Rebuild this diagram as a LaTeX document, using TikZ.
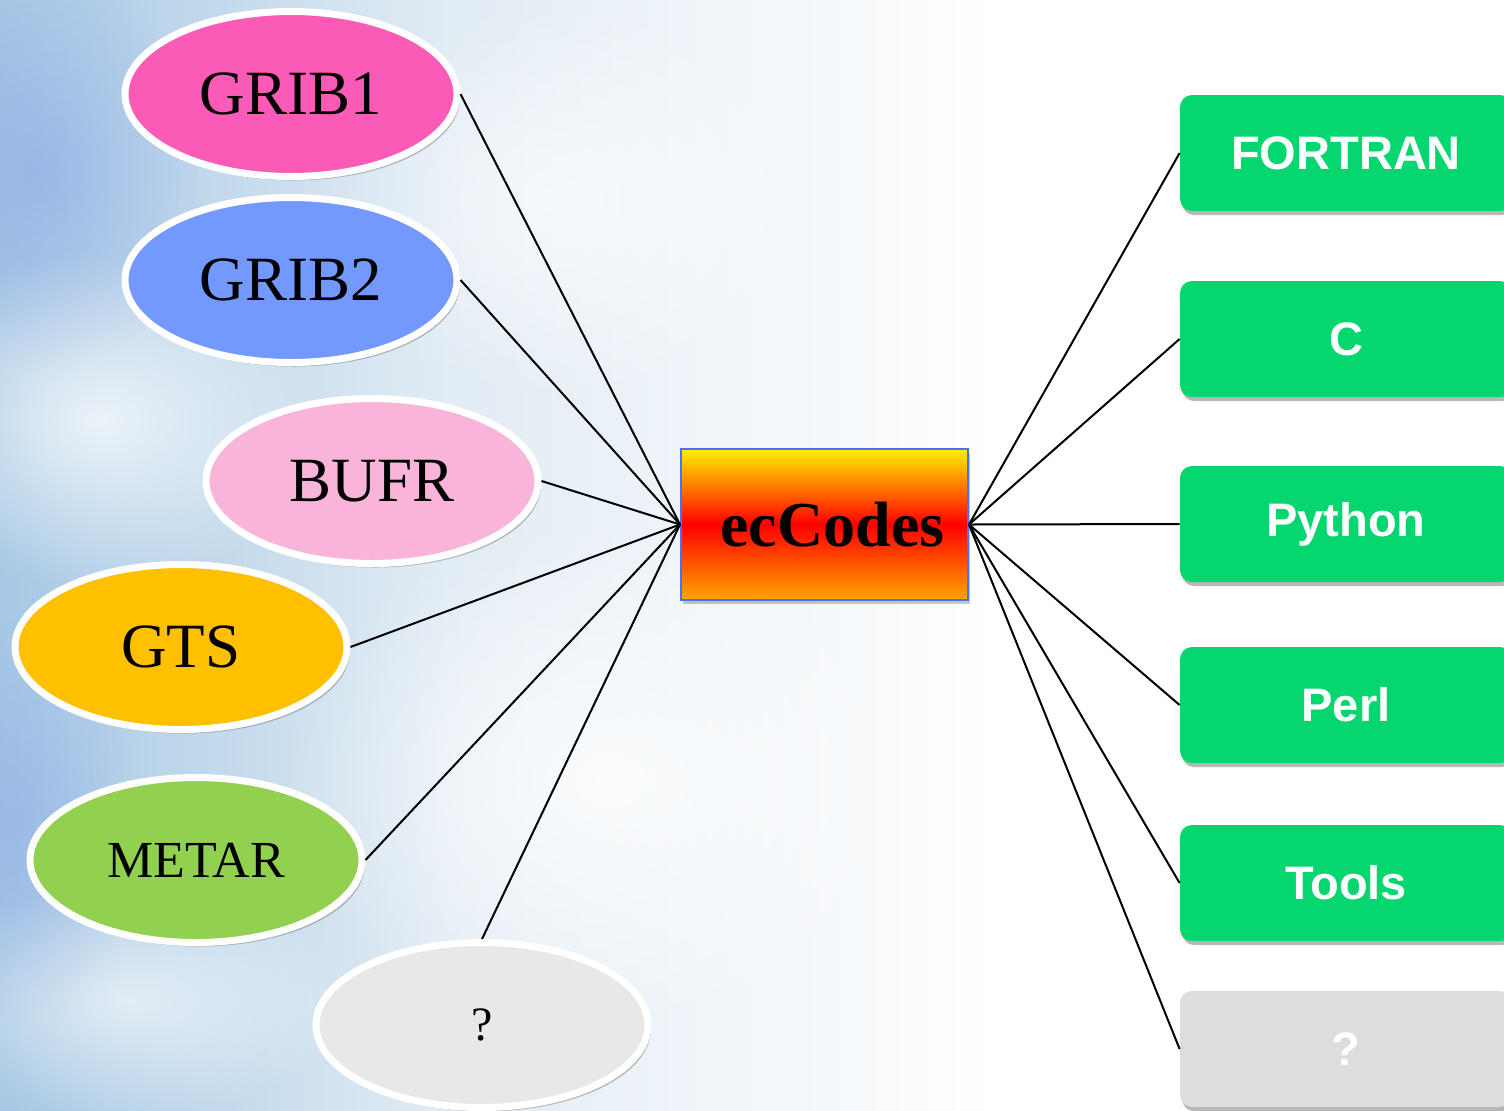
\documentclass[tikz,border=0pt]{standalone}
\usepackage{fontspec}
\setmainfont{Liberation Serif}
\newfontfamily\arialfont{Liberation Sans}
\usetikzlibrary{shapes.geometric,shadows,fadings}
\tikzfading[name=softcloud, inner color=transparent!0, outer color=transparent!100]
\definecolor{skyblue}{HTML}{A6C8E4}
\definecolor{skymid}{HTML}{E2ECF4}
\definecolor{gribone}{HTML}{F95BB6}
\definecolor{gribtwo}{HTML}{7399FF}
\definecolor{bufrc}{HTML}{F9B4D9}
\definecolor{gtsc}{HTML}{FFC000}
\definecolor{metarc}{HTML}{92D050}
\definecolor{unkc}{HTML}{E8E8E8}
\definecolor{langgreen}{HTML}{06D66F}
\definecolor{unkbox}{HTML}{DDDDDD}
\definecolor{ecborder}{HTML}{4472FF}
\definecolor{ecyellow}{HTML}{FFF000}
\definecolor{ecorange}{HTML}{FFA500}
\begin{document}
\begin{tikzpicture}[x=0.5pt,y=-0.5pt,
  fmt/.style={ellipse, draw=white, line width=3.5pt, minimum width=166pt, minimum height=82.5pt, inner sep=0pt,
    drop shadow={shadow xshift=1.5pt, shadow yshift=-2pt, opacity=0.35, fill=black!70}},
  fmtfont/.style={font=\fontsize{31.5}{34}\selectfont},
  langbox/.style={rounded corners=6pt, fill=langgreen, minimum width=166pt, minimum height=58pt, inner sep=0pt,
    text=white, font=\arialfont\bfseries\fontsize{23.5}{26}\selectfont,
    drop shadow={shadow xshift=1pt, shadow yshift=-2pt, opacity=0.4, fill=black!70}},
  conn/.style={line width=1pt, black}]
\useasboundingbox (0,0) rectangle (1504,1110);
\clip (0,0) rectangle (1504,1110);
% background sky
\shade[left color=skyblue, right color=skymid] (0,0) rectangle (450,1110);
\shade[left color=skymid, right color=white] (450,0) rectangle (1000,1110);
\fill[white] (1000,0) rectangle (1504,1110);
\fill[white, opacity=0.75, path fading=softcloud] (100,420) ellipse (220 and 170);
\fill[white, opacity=0.6, path fading=softcloud] (130,1000) ellipse (220 and 120);
\fill[white, opacity=0.8, path fading=softcloud] (600,780) ellipse (320 and 260);
\fill[white, opacity=0.6, path fading=softcloud] (560,200) ellipse (260 and 200);
\fill[skyblue!70!blue, opacity=0.3, path fading=softcloud] (40,170) ellipse (170 and 200);
\fill[skyblue!70!blue, opacity=0.25, path fading=softcloud] (20,820) ellipse (120 and 200);
% format ellipses
\node[fmt, fill=gribone, fmtfont] (g1) at (291,94) {GRIB1};
\node[fmt, fill=gribtwo, fmtfont] (g2) at (291,280) {GRIB2};
\node[fmt, fill=bufrc, fmtfont] (bufr) at (372,481) {BUFR};
\node[fmt, fill=gtsc, fmtfont] (gts) at (181,647) {GTS};
\node[fmt, fill=metarc, font=\fontsize{26}{28}\selectfont] (metar) at (196,860) {METAR};
\node[fmt, fill=unkc, font=\fontsize{24}{26}\selectfont] (unk) at (482,1025) {?};
% central box
\node[draw=ecborder, line width=1pt, minimum width=143.5pt, minimum height=75.5pt, inner sep=0pt,
  top color=ecyellow, bottom color=ecorange, middle color=red,
  drop shadow={shadow xshift=1pt, shadow yshift=-2pt, opacity=0.3, fill=black!70},
  font=\bfseries\fontsize{32}{34}\selectfont] (ec) at (824.5,524.5) {\hspace{8pt}ecCodes};
% language boxes
\node[langbox] (fortran) at (1346,153) {FORTRAN};
\node[langbox] (c) at (1346,339) {C};
\node[langbox] (python) at (1346,524) {Python};
\node[langbox] (perl) at (1346,705) {Perl};
\node[langbox] (tools) at (1346,883) {Tools};
\node[langbox, fill=unkbox] (unkl) at (1346,1049) {?};
% connectors
\draw[conn] (ec.west) -- (g1.east);
\draw[conn] (ec.west) -- (g2.east);
\draw[conn] (ec.west) -- (bufr.east);
\draw[conn] (ec.west) -- (gts.east);
\draw[conn] (ec.west) -- (metar.east);
\draw[conn] (ec.west) -- (unk.north);
\draw[conn] (ec.east) -- (fortran.west);
\draw[conn] (ec.east) -- (c.west);
\draw[conn] (ec.east) -- (python.west);
\draw[conn] (ec.east) -- (perl.west);
\draw[conn] (ec.east) -- (tools.west);
\draw[conn] (ec.east) -- (unkl.west);
\end{tikzpicture}
\end{document}
